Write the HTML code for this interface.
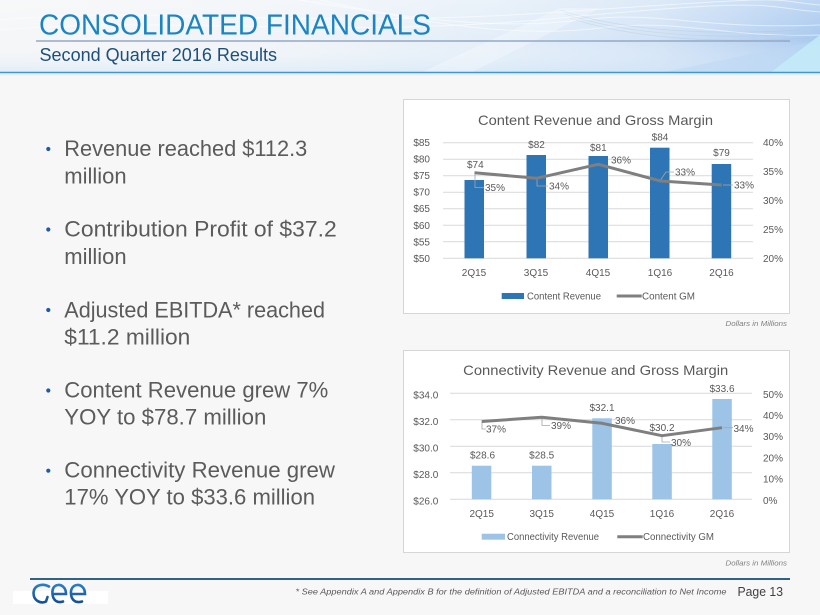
<!DOCTYPE html>
<html>
<head>
<meta charset="utf-8">
<style>
  html,body{margin:0;padding:0;background:#f7f7f7;}
  body{width:820px;height:615px;overflow:hidden;}
  svg{display:block;}
  text{font-family:"Liberation Sans", Arial, sans-serif;}
</style>
</head>
<body>
<svg width="820" height="615" viewBox="0 0 820 615" xmlns="http://www.w3.org/2000/svg">
  <defs>
    <linearGradient id="hdr" x1="0" y1="0" x2="1" y2="0">
      <stop offset="0" stop-color="#f5f6f7"/>
      <stop offset="0.35" stop-color="#f0f4f8"/>
      <stop offset="0.6" stop-color="#e3eef8"/>
      <stop offset="0.8" stop-color="#d3e3f6"/>
      <stop offset="0.93" stop-color="#b9d3f2"/>
      <stop offset="1" stop-color="#a9c9ef"/>
    </linearGradient>
    <linearGradient id="hdrv" x1="0" y1="0" x2="0" y2="1">
      <stop offset="0" stop-color="#ffffff" stop-opacity="0.25"/>
      <stop offset="0.55" stop-color="#ffffff" stop-opacity="0"/>
      <stop offset="1" stop-color="#cfe4f6" stop-opacity="0.5"/>
    </linearGradient>
    <linearGradient id="logo" x1="0" y1="0" x2="0" y2="1">
      <stop offset="0" stop-color="#2a7cc4"/>
      <stop offset="1" stop-color="#164f96"/>
    </linearGradient>
  </defs>

  <!-- body -->
  <rect x="0" y="0" width="820" height="615" fill="#f7f7f7"/>

  <!-- header -->
  <rect x="0" y="0" width="820" height="73" fill="url(#hdr)"/>
  <rect x="0" y="0" width="820" height="73" fill="url(#hdrv)"/>
  <g fill="none" stroke="#ffffff" stroke-opacity="0.55" stroke-width="1">
    <path d="M0 20 C150 5 300 30 560 12 S760 0 820 5"/>
    <path d="M0 30 C180 15 330 40 560 18 S760 8 820 12"/>
    <path d="M300 0 C420 20 500 30 580 20 S700 30 820 25"/>
    <path d="M320 0 C430 25 520 38 600 28 S720 38 820 35"/>
  </g>
  <g fill="none" stroke="#a9bfd6" stroke-opacity="0.35" stroke-width="0.7">
    <path d="M560 10 C620 30 700 36 800 30"/>
    <path d="M565 14 C625 34 705 40 805 34"/>
    <path d="M570 18 C630 38 710 44 810 38"/>
  </g>
  <path d="M420 73 L560 8 L600 8 L470 73 Z" fill="#ffffff" fill-opacity="0.28"/>
  <path d="M660 73 L820 40 L820 73 Z" fill="#bcd8f4" fill-opacity="0.5"/>
  <path d="M770 73 L820 35 L820 73 Z" fill="#c4ecf8" fill-opacity="0.85"/>
  <line x1="0" y1="72.5" x2="820" y2="72.5" stroke="#3f97cb" stroke-width="1.6"/>
  <rect x="0" y="73.5" width="820" height="2" fill="#e9eef2"/>

  <text x="39" y="34.5" font-size="29" fill="#1a84c4" textLength="392" lengthAdjust="spacingAndGlyphs">CONSOLIDATED FINANCIALS</text>
  <line x1="36" y1="41" x2="790" y2="41" stroke="#93a9c6" stroke-width="1.5"/>
  <text x="39.5" y="61" font-size="18" fill="#1e4f7a" textLength="237.5" lengthAdjust="spacingAndGlyphs">Second Quarter 2016 Results</text>

  <!-- bullets -->
  <g fill="#1f5aa6">
    <circle cx="48.3" cy="149" r="2.1"/>
    <circle cx="48.3" cy="229.5" r="2.1"/>
    <circle cx="48.3" cy="310" r="2.1"/>
    <circle cx="48.3" cy="390.5" r="2.1"/>
    <circle cx="48.3" cy="470.7" r="2.1"/>
  </g>
  <g font-size="22" fill="#5b5b5b">
    <text x="64.3" y="156" textLength="243" lengthAdjust="spacingAndGlyphs">Revenue reached $112.3</text>
    <text x="64.3" y="183.3">million</text>
    <text x="64.3" y="236.7" textLength="272.4" lengthAdjust="spacingAndGlyphs">Contribution Profit of $37.2</text>
    <text x="64.3" y="264">million</text>
    <text x="64.3" y="317.3" textLength="260.7" lengthAdjust="spacingAndGlyphs">Adjusted EBITDA* reached</text>
    <text x="64.3" y="344.3" textLength="126" lengthAdjust="spacingAndGlyphs">$11.2 million</text>
    <text x="64.3" y="397.7" textLength="264" lengthAdjust="spacingAndGlyphs">Content Revenue grew 7%</text>
    <text x="64.3" y="424.3" textLength="202" lengthAdjust="spacingAndGlyphs">YOY to $78.7 million</text>
    <text x="64.3" y="477.7" textLength="270.7" lengthAdjust="spacingAndGlyphs">Connectivity Revenue grew</text>
    <text x="64.3" y="504.3" textLength="250.7" lengthAdjust="spacingAndGlyphs">17% YOY to $33.6 million</text>
  </g>

  <!-- ================= CHART 1 ================= -->
  <rect x="403.5" y="99.5" width="386" height="214" fill="#ffffff" stroke="#d6d6d6" stroke-width="1"/>
  <text x="595.5" y="125" font-size="14" fill="#595959" text-anchor="middle" textLength="235" lengthAdjust="spacingAndGlyphs">Content Revenue and Gross Margin</text>

  <g stroke="#d9d9d9" stroke-width="1">
    <line x1="443" y1="142.7" x2="753" y2="142.7"/>
    <line x1="443" y1="159.2" x2="753" y2="159.2"/>
    <line x1="443" y1="175.7" x2="753" y2="175.7"/>
    <line x1="443" y1="192.2" x2="753" y2="192.2"/>
    <line x1="443" y1="208.7" x2="753" y2="208.7"/>
    <line x1="443" y1="225.3" x2="753" y2="225.3"/>
    <line x1="443" y1="241.8" x2="753" y2="241.8"/>
    <line x1="443" y1="258.3" x2="753" y2="258.3"/>
  </g>
  <g font-size="10" fill="#595959" text-anchor="end">
    <text x="430" y="146.2">$85</text>
    <text x="430" y="162.7">$80</text>
    <text x="430" y="179.2">$75</text>
    <text x="430" y="195.7">$70</text>
    <text x="430" y="212.2">$65</text>
    <text x="430" y="228.8">$60</text>
    <text x="430" y="245.3">$55</text>
    <text x="430" y="261.8">$50</text>
  </g>
  <g font-size="10" fill="#595959">
    <text x="763" y="146.2">40%</text>
    <text x="763" y="175.1">35%</text>
    <text x="763" y="204">30%</text>
    <text x="763" y="232.9">25%</text>
    <text x="763" y="261.8">20%</text>
  </g>
  <g fill="#2e75b6">
    <rect x="464.5" y="180" width="19.5" height="78.3"/>
    <rect x="526.5" y="155" width="19.5" height="103.3"/>
    <rect x="588.5" y="156" width="19.5" height="102.3"/>
    <rect x="650" y="147.7" width="19.5" height="110.6"/>
    <rect x="711.7" y="164" width="19.5" height="94.3"/>
  </g>
  <!-- leader lines -->
  <g fill="none" stroke="#a6a6a6" stroke-width="0.8">
    <polyline points="475,174 475,187.5 484,187.5"/>
    <polyline points="537,179 537,186 548,186"/>
    <polyline points="660.5,180 666,172 674,172"/>
    <polyline points="723,185 733,185"/>
  </g>
  <polyline points="474.5,172.7 536.5,178.3 598.3,164.3 660.5,181 721.7,185" fill="none" stroke="#7f7f7f" stroke-width="3" stroke-linejoin="round"/>
  <g font-size="10" fill="#595959" text-anchor="middle">
    <text x="475.3" y="167.8">$74</text>
    <text x="536.5" y="148">$82</text>
    <text x="598.3" y="150.8">$81</text>
    <text x="660" y="140.5">$84</text>
    <text x="721.5" y="156.2">$79</text>
  </g>
  <g font-size="10" fill="#595959">
    <text x="485" y="191.2">35%</text>
    <text x="549" y="189.5">34%</text>
    <text x="611" y="163.5">36%</text>
    <text x="675" y="175.5">33%</text>
    <text x="734" y="188.5">33%</text>
  </g>
  <g font-size="10" fill="#595959" text-anchor="middle">
    <text x="474" y="276.2">2Q15</text>
    <text x="536" y="276.2">3Q15</text>
    <text x="598" y="276.2">4Q15</text>
    <text x="660" y="276.2">1Q16</text>
    <text x="721.5" y="276.2">2Q16</text>
  </g>
  <rect x="501.7" y="293" width="22.3" height="6" fill="#2e75b6"/>
  <text x="527" y="299.5" font-size="10" fill="#595959" textLength="74" lengthAdjust="spacingAndGlyphs">Content Revenue</text>
  <line x1="616.7" y1="296" x2="641.7" y2="296" stroke="#7f7f7f" stroke-width="3"/>
  <text x="642" y="299.5" font-size="10" fill="#595959" textLength="53" lengthAdjust="spacingAndGlyphs">Content GM</text>
  <text x="787" y="326" font-size="7.5" font-style="italic" fill="#7f7f7f" text-anchor="end" textLength="61.5" lengthAdjust="spacingAndGlyphs">Dollars in Millions</text>

  <!-- ================= CHART 2 ================= -->
  <rect x="403.5" y="350.5" width="386" height="202" fill="#ffffff" stroke="#d6d6d6" stroke-width="1"/>
  <text x="595.7" y="374.8" font-size="14" fill="#595959" text-anchor="middle" textLength="265" lengthAdjust="spacingAndGlyphs">Connectivity Revenue and Gross Margin</text>

  <g stroke="#d9d9d9" stroke-width="1">
    <line x1="450" y1="393.3" x2="752" y2="393.3"/>
    <line x1="450" y1="419.8" x2="752" y2="419.8"/>
    <line x1="450" y1="446.3" x2="752" y2="446.3"/>
    <line x1="450" y1="472.8" x2="752" y2="472.8"/>
    <line x1="450" y1="499.3" x2="752" y2="499.3"/>
  </g>
  <g font-size="10" fill="#595959" text-anchor="end">
    <text x="438.3" y="398.3">$34.0</text>
    <text x="438.3" y="424.8">$32.0</text>
    <text x="438.3" y="451.3">$30.0</text>
    <text x="438.3" y="477.8">$28.0</text>
    <text x="438.3" y="504.3">$26.0</text>
  </g>
  <g font-size="10" fill="#595959">
    <text x="763" y="397.8">50%</text>
    <text x="763" y="419">40%</text>
    <text x="763" y="440.2">30%</text>
    <text x="763" y="461.4">20%</text>
    <text x="763" y="482.6">10%</text>
    <text x="763" y="503.8">0%</text>
  </g>
  <g fill="#9dc3e6">
    <rect x="471.8" y="465.7" width="19.5" height="33.6"/>
    <rect x="532" y="465.7" width="19.5" height="33.6"/>
    <rect x="592.3" y="418.3" width="19.5" height="81"/>
    <rect x="652.3" y="444" width="19.5" height="55.3"/>
    <rect x="712.3" y="399" width="19.5" height="100.3"/>
  </g>
  <g fill="none" stroke="#a6a6a6" stroke-width="0.8">
    <polyline points="482,422 482,429 486,429"/>
    <polyline points="542,418 542,425.5 550,425.5"/>
    <polyline points="662,436 662,442 670,442"/>
    <polyline points="723,427.7 733,427.7"/>
  </g>
  <polyline points="481.7,421.5 541.7,417.3 602,423.3 662,435.7 722,427.7" fill="none" stroke="#7f7f7f" stroke-width="3" stroke-linejoin="round"/>
  <g font-size="10" fill="#595959" text-anchor="middle">
    <text x="482.5" y="458.3">$28.6</text>
    <text x="541.7" y="458.3">$28.5</text>
    <text x="602" y="411.2">$32.1</text>
    <text x="662" y="430.8">$30.2</text>
    <text x="722" y="391.8">$33.6</text>
  </g>
  <g font-size="10" fill="#595959">
    <text x="486" y="432.5">37%</text>
    <text x="551" y="429.2">39%</text>
    <text x="615" y="424.2">36%</text>
    <text x="671" y="445.8">30%</text>
    <text x="733.5" y="431.8">34%</text>
  </g>
  <g font-size="10" fill="#595959" text-anchor="middle">
    <text x="481.7" y="516.8">2Q15</text>
    <text x="541.7" y="516.8">3Q15</text>
    <text x="602" y="516.8">4Q15</text>
    <text x="662" y="516.8">1Q16</text>
    <text x="722" y="516.8">2Q16</text>
  </g>
  <rect x="481.7" y="533.7" width="23.3" height="6" fill="#9dc3e6"/>
  <text x="507" y="540.2" font-size="10" fill="#595959" textLength="92" lengthAdjust="spacingAndGlyphs">Connectivity Revenue</text>
  <line x1="617.3" y1="536.7" x2="642.7" y2="536.7" stroke="#7f7f7f" stroke-width="3"/>
  <text x="643" y="540.2" font-size="10" fill="#595959" textLength="71" lengthAdjust="spacingAndGlyphs">Connectivity GM</text>
  <text x="787" y="565.5" font-size="7.5" font-style="italic" fill="#7f7f7f" text-anchor="end" textLength="61.5" lengthAdjust="spacingAndGlyphs">Dollars in Millions</text>

  <!-- ================= FOOTER ================= -->
  <line x1="30" y1="579" x2="790" y2="579" stroke="#2f6382" stroke-width="2"/>
  <rect x="13" y="591" width="95" height="13" fill="#ffffff"/>
  <!-- logo marks -->
  <g fill="none" stroke="url(#logo)" stroke-width="2.6" stroke-linecap="round">
    <path d="M49 586.5 C44 583.5 34 584 33.5 593 C33.5 601 41 604 46 601.5 L47.5 597"/>
    <path d="M53.5 594 L66 594 C66 587 61 584.5 58 585 C53.5 585.5 52 589.5 52.5 594 C53 600 57 603.5 63 601.5"/>
    <path d="M71.5 594 L85 594 C85 587 80 584.5 77 585 C72.5 585.5 70.5 589.5 71 594 C71.5 600 75.5 603.5 82 601.5"/>
  </g>
  <text x="295.5" y="594.5" font-size="8.5" font-style="italic" fill="#595959" textLength="431" lengthAdjust="spacingAndGlyphs">* See Appendix A and Appendix B for the definition of Adjusted EBITDA and a reconciliation to Net Income</text>
  <text x="737.5" y="596" font-size="13" fill="#404040" textLength="45.5" lengthAdjust="spacingAndGlyphs">Page 13</text>
</svg>
</body>
</html>
